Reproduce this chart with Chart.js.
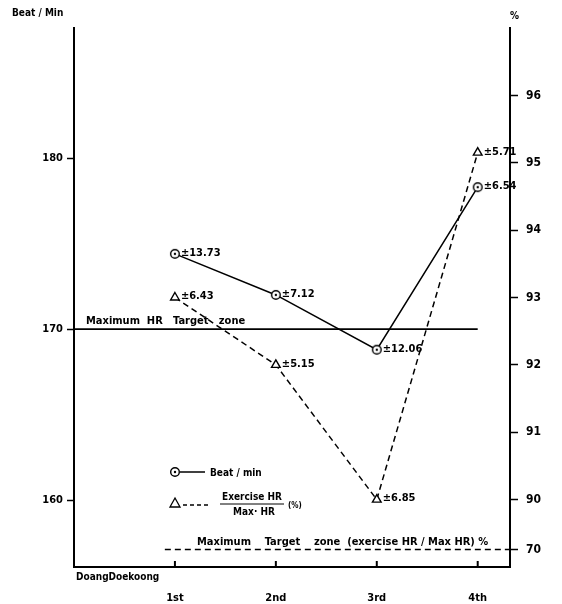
<!DOCTYPE html>
<html>
<head>
<meta charset="utf-8">
<script src="https://cdn.jsdelivr.net/npm/chart.js@4"></script>
<style>
  html, body { margin: 0; padding: 0; background: #fff; }
  #wrap { width: 562px; height: 604px; }
</style>
</head>
<body>
<div id="wrap"><canvas id="myChart" width="562" height="604"></canvas></div>
<script>
//DATOS
const sesiones = ["1st", "2nd", "3rd", "4th"];
const beatMin = [174.4, 172.0, 168.8, 178.3];
const beatSD = ["±13.73", "±7.12", "±12.06", "±6.54"];
const exercisePct = [93.0, 92.0, 90.0, 95.15];
const exerciseSD = ["±6.43", "±5.15", "±6.85", "±5.71"];
const beatTicks = [160, 170, 180];
const pctTickValues = [89.26, 90, 91, 92, 93, 94, 95, 96]; // 89.26 = broken-axis spot for 70
const pctTickLabels = ["70", "90", "91", "92", "93", "94", "95", "96"];
const maxHRTarget = 170;
const maxTargetZonePct = 89.26;

const FONT = "'DejaVu Sans Condensed', 'DejaVu Sans', sans-serif";

//FUNCIONES
function puntoCirculo() {
  const c = document.createElement("canvas");
  c.width = 12; c.height = 12;
  const g = c.getContext("2d");
  g.beginPath();
  g.arc(6, 6, 4.3, 0, 2 * Math.PI);
  g.fillStyle = "#fff";
  g.fill();
  g.lineWidth = 1.4;
  g.strokeStyle = "#000";
  g.stroke();
  g.beginPath();
  g.arc(6, 6, 1.2, 0, 2 * Math.PI);
  g.fillStyle = "#000";
  g.fill();
  return c;
}
const circulo = puntoCirculo();

const textos = {
  id: "textos",
  afterDatasetsDraw(chart) {
    const ctx = chart.ctx;
    const x = chart.scales.x;
    const area = chart.chartArea;
    ctx.save();
    ctx.fillStyle = "#000";
    ctx.strokeStyle = "#000";

    // marcas hacia adentro en el eje x
    ctx.lineWidth = 2;
    sesiones.forEach((s, i) => {
      const px = x.getPixelForValue(i);
      ctx.beginPath();
      ctx.moveTo(px, area.bottom);
      ctx.lineTo(px, area.bottom - 6);
      ctx.stroke();
    });

    // etiquetas de desviacion
    ctx.font = "bold 11px " + FONT;
    ctx.textBaseline = "middle";
    ctx.textAlign = "left";
    const m0 = chart.getDatasetMeta(0);
    m0.data.forEach((p, i) => ctx.fillText(beatSD[i], p.x + 6, p.y - 1));
    const m1 = chart.getDatasetMeta(1);
    m1.data.forEach((p, i) => ctx.fillText(exerciseSD[i], p.x + 6, p.y - 1));

    // titulos de ejes
    ctx.font = "bold 10px " + FONT;
    ctx.fillText("Beat / Min", 12, 13);
    ctx.fillText("%", 510, 16);
    ctx.fillText("DoangDoekoong", 76, 577);

    // lineas de referencia
    ctx.font = "bold 11px " + FONT;
    ctx.textBaseline = "alphabetic";
    const yHR = chart.scales.y.getPixelForValue(maxHRTarget);
    ctx.fillText("Maximum  HR   Target   zone", 86, yHR - 5);
    const yZone = chart.scales.pct.getPixelForValue(maxTargetZonePct);
    ctx.fillText("Maximum    Target    zone  (exercise HR / Max HR) %", 197, yZone - 4);

    // leyenda
    ctx.font = "bold 10px " + FONT;
    const lx = 175;
    const ly1 = 472;
    ctx.drawImage(circulo, lx - 6, ly1 - 6);
    ctx.lineWidth = 1.5;
    ctx.beginPath();
    ctx.moveTo(lx + 5, ly1);
    ctx.lineTo(lx + 30, ly1);
    ctx.stroke();
    ctx.textBaseline = "middle";
    ctx.fillText("Beat / min", lx + 35, ly1 + 1);

    const ly2 = 503;
    ctx.lineWidth = 1.3;
    ctx.fillStyle = "#fff";
    ctx.beginPath();
    ctx.moveTo(lx, ly2 - 5);
    ctx.lineTo(lx + 5, ly2 + 4);
    ctx.lineTo(lx - 5, ly2 + 4);
    ctx.closePath();
    ctx.fill();
    ctx.stroke();
    ctx.fillStyle = "#000";
    ctx.setLineDash([4, 3]);
    ctx.beginPath();
    ctx.moveTo(lx + 8, ly2 + 2);
    ctx.lineTo(lx + 33, ly2 + 2);
    ctx.stroke();
    ctx.setLineDash([]);
    ctx.textAlign = "center";
    ctx.fillText("Exercise HR", 252, ly2 - 6);
    ctx.lineWidth = 1;
    ctx.beginPath();
    ctx.moveTo(220, ly2 + 1);
    ctx.lineTo(284, ly2 + 1);
    ctx.stroke();
    ctx.fillText("Max\u00b7 HR", 254, ly2 + 9);
    ctx.textAlign = "left";
    ctx.font = "bold 8px " + FONT;
    ctx.fillText("(%)", 288, ly2 + 3);
    ctx.restore();
  },
};

//CONFIG
const fuente = { family: FONT, weight: "bold", size: 11 };
const data = {
  datasets: [
    {
      label: "Beat / min",
      data: beatMin.map((v, i) => ({ x: i, y: v })),
      yAxisID: "y",
      borderColor: "#000",
      borderWidth: 1.5,
      pointStyle: circulo,
      tension: 0,
    },
    {
      label: "Exercise HR / Max HR (%)",
      data: exercisePct.map((v, i) => ({ x: i, y: v })),
      yAxisID: "pct",
      borderColor: "#000",
      borderWidth: 1.5,
      borderDash: [6, 4],
      pointStyle: "triangle",
      pointRadius: 5,
      pointBackgroundColor: "#fff",
      pointBorderColor: "#000",
      pointBorderWidth: 1.4,
      tension: 0,
    },
    {
      label: "Maximum HR Target zone",
      data: [{ x: -1, y: maxHRTarget }, { x: 3, y: maxHRTarget }],
      yAxisID: "y",
      borderColor: "#000",
      borderWidth: 1.8,
      pointRadius: 0,
    },
    {
      label: "Maximum Target zone",
      data: [{ x: -0.1, y: maxTargetZonePct }, { x: 3.32, y: maxTargetZonePct }],
      yAxisID: "pct",
      borderColor: "#000",
      borderWidth: 1.3,
      borderDash: [6, 4],
      pointRadius: 0,
    },
  ],
};

const config = {
  type: "line",
  data: data,
  plugins: [textos],
  options: {
    responsive: false,
    animation: false,
    layout: { padding: { top: 28, left: 0, right: 0, bottom: 0 } },
    plugins: { legend: { display: false }, tooltip: { enabled: false } },
    scales: {
      x: {
        type: "linear",
        min: -1,
        max: 3.32,
        afterBuildTicks: (s) => { s.ticks = sesiones.map((_, i) => ({ value: i })); },
        afterFit: (s) => { s.height = 37; },
        ticks: {
          callback: (v) => sesiones[v] ?? "",
          font: fuente,
          color: "#000",
          padding: 25,
          maxRotation: 0,
          autoSkip: false,
        },
        grid: { drawOnChartArea: false, drawTicks: false },
        border: { color: "#000", width: 2 },
      },
      y: {
        position: "left",
        min: 156.1,
        max: 187.6,
        afterBuildTicks: (s) => { s.ticks = beatTicks.map((v) => ({ value: v })); },
        afterFit: (s) => { s.width = 74; },
        ticks: { font: fuente, color: "#000", padding: 4 },
        grid: { drawOnChartArea: false, tickLength: 7, tickColor: "#000", tickWidth: 1.5 },
        border: { color: "#000", width: 2 },
      },
      pct: {
        position: "right",
        min: 89,
        max: 97,
        afterBuildTicks: (s) => { s.ticks = pctTickValues.map((v) => ({ value: v })); },
        afterFit: (s) => { s.width = 52; },
        ticks: {
          callback: (v) => pctTickLabels[pctTickValues.indexOf(v)] ?? "",
          font: { family: FONT, weight: "bold", size: 12 },
          color: "#000",
          padding: 8,
        },
        grid: { drawOnChartArea: false, tickLength: 8, tickColor: "#000", tickWidth: 1.5 },
        border: { color: "#000", width: 2 },
      },
    },
  },
};

//EVENTOS
const myChart = new Chart(document.getElementById("myChart"), config);
</script>
</body>
</html>
